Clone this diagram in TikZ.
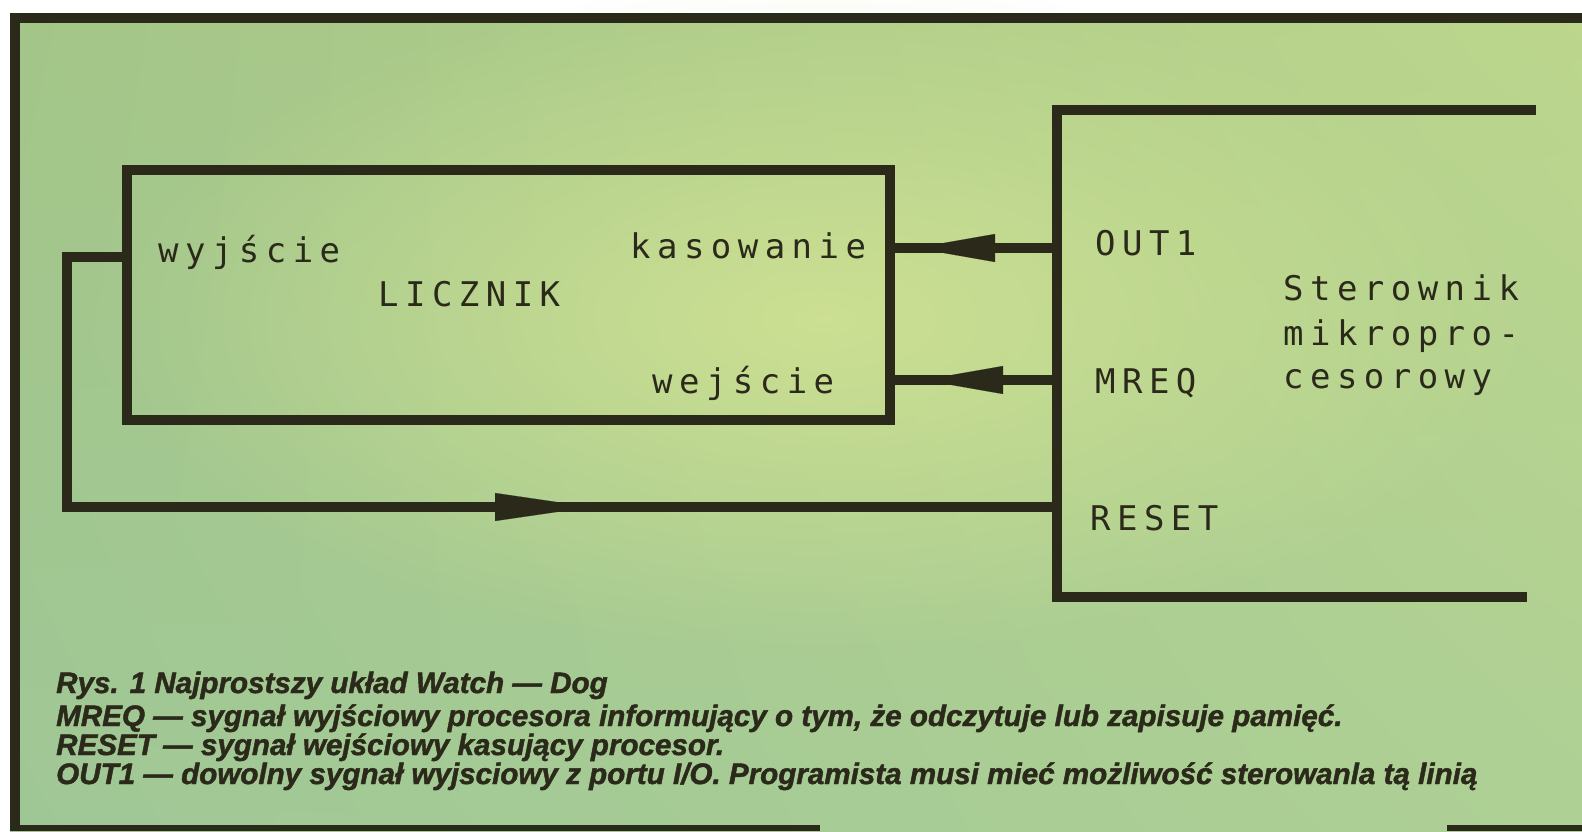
\documentclass[tikz,border=0pt]{standalone}
\usepackage{fontspec}
\usetikzlibrary{arrows.meta,decorations.markings,fadings,shadings}
\setmainfont{Liberation Sans}
\newfontfamily\dotfont[LetterSpace=19]{DejaVu Sans Mono}
\newfontfamily\capfont[BoldItalicFeatures={FakeBold=1.5}]{Liberation Sans}
\definecolor{ink}{HTML}{2B2A1A}
\definecolor{bgUL}{HTML}{A3C588}
\definecolor{bgUR}{HTML}{BCD68C}
\definecolor{bgLL}{HTML}{9FC796}
\definecolor{bgLR}{HTML}{AED095}
\definecolor{glow}{HTML}{D2E393}
\tikzfading[name=softglow, inner color=transparent!0, outer color=transparent!100]
\begin{document}
\begin{tikzpicture}[x=1pt,y=-1pt,
  wire/.style={draw=ink, color=ink, line width=10pt},
  pinlabel/.style={font=\dotfont\fontsize{34}{40}\selectfont, text=ink, anchor=base west, inner sep=0pt},
  capline/.style={font=\capfont\bfseries\itshape\fontsize{29.6}{34}\selectfont, text=ink, anchor=base west, inner sep=0pt},
  arrowat/.style 2 args={postaction={decorate}, decoration={markings,
      mark=at position #1 with {\arrow[line width=0.1pt]{Triangle[length=#2,width=28pt]}}}}
]
\useasboundingbox (0,0) rectangle (1582,831);

% paper background
\shade[upper left=bgUL, upper right=bgUR, lower left=bgLL, lower right=bgLR]
  (10,13) rectangle (1582,831);
\fill[glow, path fading=softglow, opacity=0.85] (820,320) ellipse [x radius=720pt, y radius=340pt];

% outer frame
\draw[ink, line width=10pt] (10,18) -- (1582,18);
\draw[ink, line width=10pt] (15,13) -- (15,831);
\draw[ink, line width=6pt] (10,828) -- (820,828);
\draw[ink, line width=6pt] (1447,828) -- (1582,828);

% counter block
\node[draw=ink, line width=10pt, minimum width=763pt, minimum height=250pt,
      inner sep=0pt, outer sep=0pt] (licznik) at (508.5,295) {};
\node[pinlabel] (wyj) at (158,262) {wyjście};
\node[pinlabel] (lname) at (378,306) {LICZNIK};
\node[pinlabel] (kas) at (630,258) {kasowanie};
\node[pinlabel] (wej) at (652,393) {wejście};

% microprocessor controller
\coordinate (sttop) at (1536,110);
\coordinate (stul) at (1057,110);
\coordinate (stll) at (1057,597);
\coordinate (stbot) at (1527,597);
\draw[wire] (sttop) -- (stul) -- (stll) -- (stbot);
\coordinate (out1) at (1057,248);
\coordinate (mreq) at (1057,380);
\coordinate (reset) at (1057,507);
\node[pinlabel] (tout) at (1095,255) {OUT1};
\node[pinlabel] (tmreq) at (1095,393) {MREQ};
\node[pinlabel] (treset) at (1090,530) {RESET};
\node[pinlabel] (st1) at (1283,300) {Sterownik};
\node[pinlabel] (st2) at (1283,345) {mikropro-};
\node[pinlabel] (st3) at (1283,388) {cesorowy};

% signal lines
\draw[wire, arrowat={142pt}{80pt}] (out1) -- (licznik.east |- out1);
\draw[wire, arrowat={134pt}{80pt}] (mreq) -- (licznik.east |- mreq);
\coordinate (fbA) at (67,257);
\coordinate (fbB) at (67,507);
\draw[wire, arrowat={834pt}{96pt}] (licznik.west |- fbA) -- (fbA) -- (fbB) -- (reset);

% caption
\node[capline] (c1) at (56,693) {Rys. 1 Najprostszy układ Watch — Dog};
\node[capline] (c2) at (56,726) {MREQ — sygnał wyjściowy procesora informujący o tym, że odczytuje lub zapisuje pamięć.};
\node[capline] (c3) at (56,755) {RESET — sygnał wejściowy kasujący procesor.};
\node[capline] (c4) at (56,784) {OUT1 — dowolny sygnał wyjsciowy z portu I/O. Programista musi mieć możliwość sterowanla tą linią};
\end{tikzpicture}
\end{document}
